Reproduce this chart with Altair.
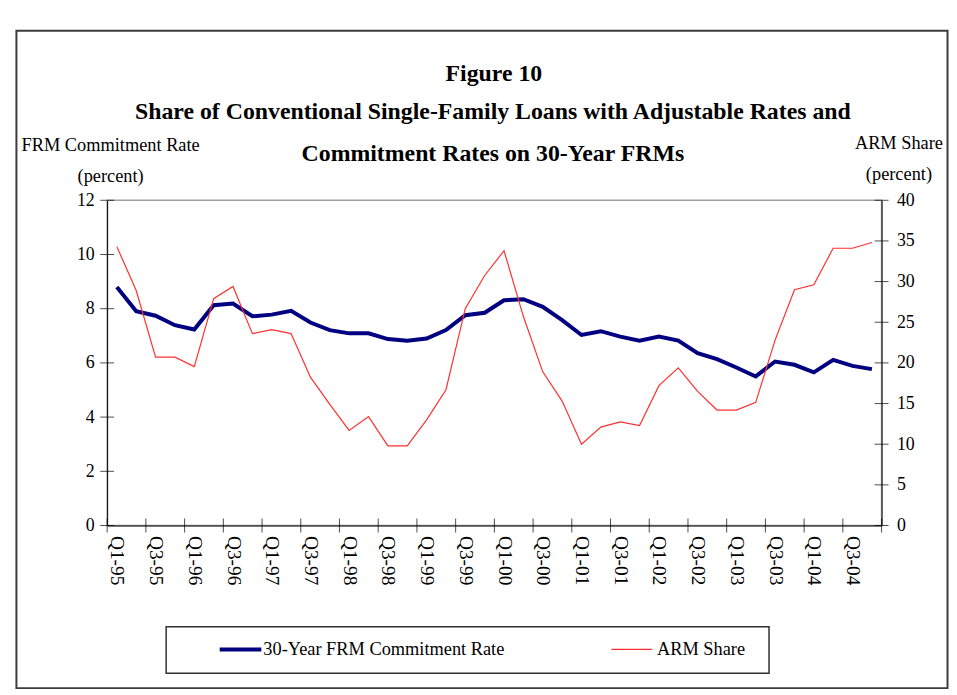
import altair as alt
import pandas as pd

quarters = [
    "Q1-95", "Q2-95", "Q3-95", "Q4-95", "Q1-96", "Q2-96", "Q3-96", "Q4-96",
    "Q1-97", "Q2-97", "Q3-97", "Q4-97", "Q1-98", "Q2-98", "Q3-98", "Q4-98",
    "Q1-99", "Q2-99", "Q3-99", "Q4-99", "Q1-00", "Q2-00", "Q3-00", "Q4-00",
    "Q1-01", "Q2-01", "Q3-01", "Q4-01", "Q1-02", "Q2-02", "Q3-02", "Q4-02",
    "Q1-03", "Q2-03", "Q3-03", "Q4-03", "Q1-04", "Q2-04", "Q3-04", "Q4-04",
]
frm_rate = [8.80, 7.91, 7.74, 7.39, 7.23, 8.13, 8.19, 7.72, 7.78, 7.92,
            7.49, 7.21, 7.09, 7.09, 6.88, 6.82, 6.90, 7.21, 7.76, 7.85,
            8.31, 8.35, 8.07, 7.58, 7.03, 7.17, 6.97, 6.82, 6.97, 6.82,
            6.36, 6.14, 5.83, 5.50, 6.05, 5.93, 5.65, 6.11, 5.89, 5.77]
arm_share = [34.3, 28.9, 20.7, 20.7, 19.55, 27.9, 29.4, 23.6, 24.1, 23.6,
             18.25, 14.9, 11.7, 13.4, 9.8, 9.8, 13.0, 16.7, 26.7, 30.75,
             33.8, 25.7, 18.9, 15.3, 10.0, 12.1, 12.75, 12.3, 17.2, 19.4,
             16.5, 14.2, 14.2, 15.15, 22.8, 29.0, 29.6, 34.1, 34.1, 34.8]
left_ticks = [0, 2, 4, 6, 8, 10, 12]
right_ticks = [0, 5, 10, 15, 20, 25, 30, 35, 40]
label_every = 2

FONT = "Liberation Serif"
W, H = 781, 328
NAVY = "#000080"
RED = "#ff3030"

n = len(quarters)
df = pd.DataFrame({"idx": list(range(n)), "quarter": quarters,
                   "frm": frm_rate, "arm": arm_share})
xticks_df = pd.DataFrame({"idx": [i - 0.5 for i in range(0, n + 1, label_every)]})
lt_df = pd.DataFrame({"frm": left_ticks})
rt_df = pd.DataFrame({"arm": right_ticks})
one = pd.DataFrame({"a": [0]})

label_arr = "[" + ",".join("'" + q + "'" for q in quarters) + "]"
xscale = alt.Scale(domain=[-0.5, n - 0.5], nice=False, zero=False)
xaxis = alt.Axis(values=list(range(0, n, label_every)),
                 labelExpr=label_arr + "[datum.value]",
                 labelAngle=90, labelPadding=10, labelFontSize=19.5,
                 labelFont=FONT, labelColor="black", ticks=False,
                 domainColor="black", domainWidth=1, grid=False,
                 labelOverlap=False, labelFlush=False, title=None)

lscale = alt.Scale(domain=[0, 12], nice=False)
rscale = alt.Scale(domain=[0, 40], nice=False)

laxis = alt.Axis(
    orient="left", values=left_ticks, ticks=False, grid=False,
    domainColor="black", labelFontSize=18, labelFont=FONT,
    labelColor="black", labelPadding=13,
    title=["FRM Commitment Rate", "(percent)"], titleAngle=0,
    titleX=3, titleY=-50, titleAlign="center", titleBaseline="alphabetic",
    titleFont=FONT, titleFontSize=18.5, titleFontWeight="normal",
    titleLineHeight=31, titleColor="black")
raxis = alt.Axis(
    orient="right", values=right_ticks, ticks=False, grid=False,
    domainColor="black", labelFontSize=18, labelFont=FONT,
    labelColor="black", labelPadding=15,
    title=["ARM Share", "(percent)"], titleAngle=0,
    titleX=17, titleY=-52, titleAlign="center", titleBaseline="alphabetic",
    titleFont=FONT, titleFontSize=18.5, titleFontWeight="normal",
    titleLineHeight=31, titleColor="black")

X = alt.X("idx:Q", scale=xscale, axis=xaxis)

blue = alt.Chart(df).mark_line(color=NAVY, strokeWidth=4).encode(
    x=X, y=alt.Y("frm:Q", scale=lscale, axis=laxis))
left_tk = alt.Chart(lt_df).mark_tick(orient="horizontal", size=14,
                                     thickness=1, color="black").encode(
    y=alt.Y("frm:Q", scale=lscale, axis=laxis), x=alt.value(0))
x_tk = alt.Chart(xticks_df).mark_tick(orient="vertical", size=14,
                                      thickness=1, color="black").encode(
    x=X, y=alt.value(H))

red = alt.Chart(df).mark_line(color=RED, strokeWidth=1.2).encode(
    x=X, y=alt.Y("arm:Q", scale=rscale, axis=raxis))
right_tk = alt.Chart(rt_df).mark_tick(orient="horizontal", size=14,
                                      thickness=1, color="black").encode(
    y=alt.Y("arm:Q", scale=rscale, axis=raxis), x=alt.value(W))

left_layer = alt.layer(blue, left_tk, x_tk)
right_layer = alt.layer(red, right_tk)

# decorations
frame = alt.Chart(one).mark_rect(fill=None, stroke="#3c3c3c", strokeWidth=2).encode(
    x=alt.value(-91.5), x2=alt.value(847.5), y=alt.value(-171), y2=alt.value(492))

def txt(s, x, y, size, weight="normal", align="center"):
    return alt.Chart(one).mark_text(text=s, font=FONT, fontSize=size,
                                    fontWeight=weight, align=align,
                                    baseline="alphabetic", color="black").encode(
        x=alt.value(x), y=alt.value(y))

title1 = txt("Figure 10", 390, -120, 24, "bold")
title2 = txt("Share of Conventional Single-Family Loans with Adjustable Rates and", 389, -82, 24, "bold")
title3 = txt("Commitment Rates on 30-Year FRMs", 389, -40, 24, "bold")

legend_box = alt.Chart(one).mark_rect(fill="white", stroke="#303030", strokeWidth=1.5).encode(
    x=alt.value(59.5), x2=alt.value(667.5), y=alt.value(430), y2=alt.value(477))
leg_blue = alt.Chart(one).mark_rule(color=NAVY, strokeWidth=4).encode(
    x=alt.value(113.5), x2=alt.value(155.5), y=alt.value(453))
leg_red = alt.Chart(one).mark_rule(color=RED, strokeWidth=1.2).encode(
    x=alt.value(508.5), x2=alt.value(549.5), y=alt.value(453))
leg_t1 = txt("30-Year FRM Commitment Rate", 157.5, 459, 18.5, align="left")
leg_t2 = txt("ARM Share", 554.5, 459, 18.5, align="left")

data_layers = alt.layer(left_layer, right_layer).resolve_scale(y="independent")

chart = alt.layer(
    frame, title1, title2, title3, legend_box, leg_blue, leg_red, leg_t1, leg_t2,
    data_layers,
).properties(
    width=W, height=H,
    autosize=alt.AutoSizeParams(type="none"),
    padding={"left": 100, "top": 191, "right": 68, "bottom": 165},
    background="white",
).configure_view(stroke="#a0a0a0", strokeWidth=1.5)

chart.save("out.html", embed_options={"renderer": "svg", "actions": False})
